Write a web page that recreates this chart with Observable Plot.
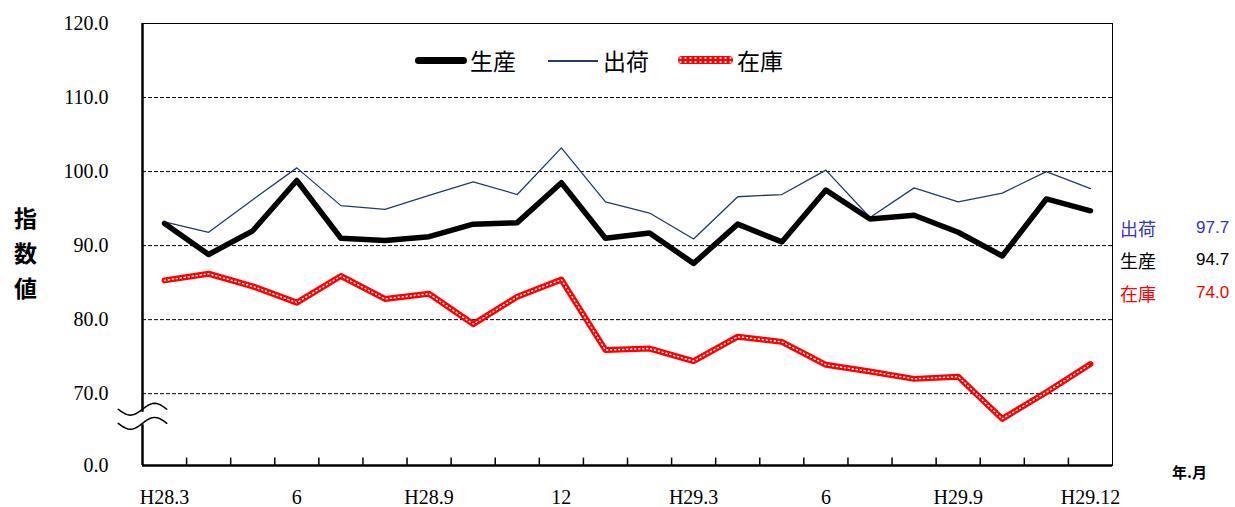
<!DOCTYPE html>
<html><head><meta charset="utf-8">
<script src="https://cdn.jsdelivr.net/npm/d3@7"></script>
<script src="https://cdn.jsdelivr.net/npm/@observablehq/plot@0.6"></script>
<style>
body{margin:0;background:#fff;font-family:"Noto Sans CJK JP",sans-serif}
#wrap{position:relative;width:1235px;height:507px}
.t{position:absolute;white-space:nowrap;line-height:24px}
</style></head><body>
<div id="wrap"><div id="chart"></div></div>
<script>
const months = ["H28.3","4","5","6","7","8","H28.9","10","11","12","1","2","H29.3","4","5","6","7","8","H29.9","10","11","H29.12"];
const tickLabels = {0:"H28.3",3:"6",6:"H28.9",9:"12",12:"H29.3",15:"6",18:"H29.9",21:"H29.12"};
const seisan = [93.0,88.8,92.0,98.8,91.0,90.7,91.2,92.9,93.1,98.5,91.0,91.7,87.6,92.9,90.5,97.5,93.6,94.1,91.8,88.6,96.3,94.7];
const shukka = [93.2,91.8,96.2,100.5,95.4,94.9,96.8,98.6,96.9,103.2,95.9,94.4,90.9,96.6,96.9,100.2,93.8,97.8,95.9,97.1,100.0,97.7];
const zaiko  = [85.3,86.2,84.5,82.3,85.9,82.8,83.5,79.4,83.1,85.4,75.9,76.1,74.4,77.7,77.0,73.9,73.0,72.0,72.3,66.6,70.2,74.0];
const yBase = 60.3; // position of the "0.0" tick below the axis break
const yTicks = [yBase,70,80,90,100,110,120];

const idx = d3.range(months.length);
const wave = off => d3.range(0,1.01,0.05).map(t => ({x:-1.05+t*1.1, y:66.2+off+0.8*Math.sin(t*Math.PI*2)*-1}));

const chart = Plot.plot({
  width:1235, height:507,
  marginLeft:142, marginRight:123, marginTop:23, marginBottom:42,
  style:{fontFamily:"'Liberation Serif',serif", fontSize:"20px", color:"#000", overflow:"visible"},
  x:{domain:[-0.5,21.5], axis:null},
  y:{domain:[yBase,120], axis:null},
  marks:[
    Plot.ruleY([70,80,90,100,110], {stroke:"#000", strokeDasharray:"4,2", strokeWidth:1}),
    Plot.frame({stroke:"#000", strokeWidth:1}),
    Plot.ruleX([-0.5], {stroke:"#000", strokeWidth:2.5}),
    Plot.ruleY([yBase], {stroke:"#000", strokeWidth:2.5}),
    Plot.ruleX(d3.range(0.5,21,1), {y1:yBase, y2:yBase+1, stroke:"#000", strokeWidth:1.5}),
    Plot.text(yTicks, {x:-0.5, y:d=>d, text:d=>d===yBase?"0.0":d.toFixed(1), dx:-34, textAnchor:"end", fontSize:20}),
    Plot.text(Object.keys(tickLabels), {x:d=>+d, y:yBase, text:d=>tickLabels[d], dy:32, fontSize:20}),
    Plot.rect([0], {x1:-0.7, x2:-0.3, y1:65.8, y2:67.5, fill:"#fff"}),
    Plot.line(wave(-0.2), {x:"x", y:"y", stroke:"#000", strokeWidth:1.5, clip:false}),
    Plot.line(wave(1.7), {x:"x", y:"y", stroke:"#000", strokeWidth:1.5, clip:false}),
    Plot.line(idx, {x:d=>d, y:d=>zaiko[d], stroke:"red", strokeWidth:6}),
    Plot.line(idx, {x:d=>d, y:d=>zaiko[d], stroke:"#fff", strokeWidth:1.5, strokeDasharray:"1,3"}),
    Plot.line(idx, {x:d=>d, y:d=>shukka[d], stroke:"#1f3c6e", strokeWidth:1.3}),
    Plot.line(idx, {x:d=>d, y:d=>seisan[d], stroke:"#000", strokeWidth:5.5})
  ]
});
d3.select('#chart').append(() => chart);

const w = d3.select('#wrap');
const lab = (x,y,txt,color,size,extra="") => w.append('div').attr('class','t')
  .attr('style',`left:${x}px;top:${y}px;color:${color};font-size:${size}px;${extra}`).html(txt);
// legend
const sw = (x,y,css) => w.append('div').attr('class','t').attr('style',`left:${x}px;top:${y}px;${css}`);
sw(415,57,"width:52px;height:7px;background:#000;border-radius:4px");
lab(470,48,"生産","#000",23);
sw(548,60,"width:50px;height:1.5px;background:#1f3c6e");
lab(603,48,"出荷","#000",23);
sw(678,56,"width:55px;height:8px;background:radial-gradient(circle,#fff 0.8px,transparent 1.3px) 0 0/5px 4px,red;border-radius:4px");
lab(737,48,"在庫","#000",23);
// y label
lab(14,200,"指<br>数<br>値","#000",23,"line-height:35px;font-weight:bold");
// right annotations
const ends = [["出荷","97.7","#3333cc",216],["生産","94.7","#000",248],["在庫","74.0","red",281]];
ends.forEach(([n,v,c,y]) => { lab(1120,y,n,c,18); lab(1196,y,v,c,17,"font-family:'Liberation Sans',sans-serif"); });
lab(1172,460,"年.月","#000",15,"font-weight:bold");
</script></body></html>
